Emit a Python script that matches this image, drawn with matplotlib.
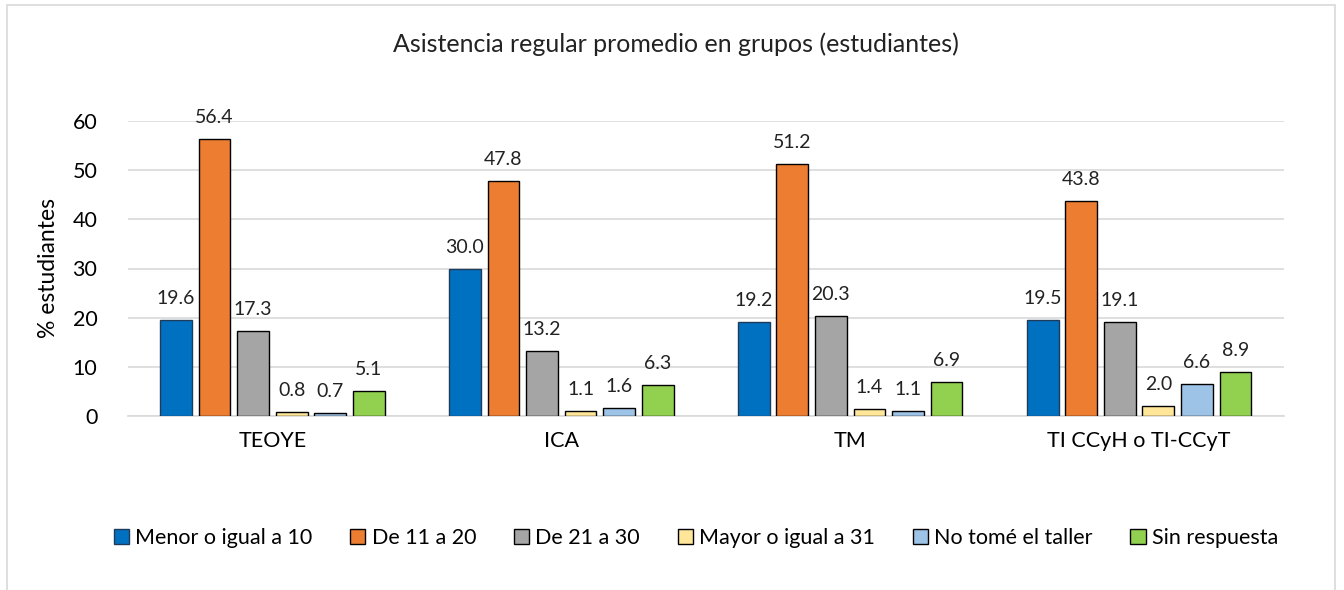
import numpy as np
import matplotlib.pyplot as plt
from matplotlib.patches import Rectangle

categories = ['TEOYE', 'ICA', 'TM', 'TI CCyH o TI-CCyT']
series_names = ['Menor o igual a 10', 'De 11 a 20', 'De 21 a 30',
                'Mayor o igual a 31', 'No tomé el taller', 'Sin respuesta']
menor_10 = [19.6, 30.0, 19.2, 19.5]
de_11_20 = [56.4, 47.8, 51.2, 43.8]
de_21_30 = [17.3, 13.2, 20.3, 19.1]
mayor_31 = [0.8, 1.1, 1.4, 2.0]
no_tome = [0.7, 1.6, 1.1, 6.6]
sin_resp = [5.1, 6.3, 6.9, 8.9]

values = [menor_10, de_11_20, de_21_30, mayor_31, no_tome, sin_resp]
colors = ['#0070C0', '#ED7D31', '#A5A5A5', '#FFE699', '#9DC3E6', '#92D050']
edges = ['#1f3b5a', 'black', 'black', 'black', 'black', 'black']

plt.rcParams['font.family'] = ['Lato', 'DejaVu Sans']

fig = plt.figure(figsize=(13.44, 5.9), dpi=100)
fig.patches.append(Rectangle((7 / 1344, -0.1), 1328 / 1344, 1.1 - 5 / 590,
                             transform=fig.transFigure, fill=False,
                             edgecolor='#d9d9d9', linewidth=1.2))
ax = fig.add_axes([128 / 1344, 1 - 416 / 590, (1283.5 - 128) / 1344, (416 - 121) / 590])

x = np.arange(len(categories))
width = 0.11
step = 0.1335
for i, (vals, name) in enumerate(zip(values, series_names)):
    pos = x + (i - 2.5) * step
    bars = ax.bar(pos, vals, width, color=colors[i], edgecolor=edges[i],
                  linewidth=1, label=name, zorder=3)
    for b, v in zip(bars, vals):
        ax.text(b.get_x() + b.get_width() / 2, v + 2.6, f'{v:.1f}',
                ha='center', va='bottom', fontsize=14, color='#222222')

ax.set_xlim(-0.5, len(categories) - 0.5)
ax.set_ylim(0, 60)
ax.set_yticks(range(0, 61, 10))
ax.set_xticks(x)
ax.set_xticklabels(categories, fontsize=15.5)
ax.tick_params(axis='y', labelsize=15.5, length=0, pad=22)
ax.tick_params(axis='x', length=0, pad=11)
ax.grid(axis='y', color='#d9d9d9', linewidth=1.2, zorder=0)
for s in ['top', 'right', 'left']:
    ax.spines[s].set_visible(False)
ax.spines['bottom'].set_color('#d9d9d9')
ax.spines['bottom'].set_linewidth(1.2)

ax.set_ylabel('% estudiantes', fontsize=16.5)
ax.yaxis.set_label_coords(-0.06, 0.5)

fig.text(676 / 1344, 1 - 44 / 590, 'Asistencia regular promedio en grupos (estudiantes)',
         ha='center', va='center', fontsize=18, color='#222222')

handles, labels = ax.get_legend_handles_labels()
fig.legend(handles, labels, loc='center', bbox_to_anchor=(696 / 1344, 1 - 538 / 590),
           ncol=6, frameon=False, fontsize=15.5, handlelength=0.7,
           handleheight=0.7, handletextpad=0.3, columnspacing=1.75)

fig.savefig('out.png', dpi=100)
